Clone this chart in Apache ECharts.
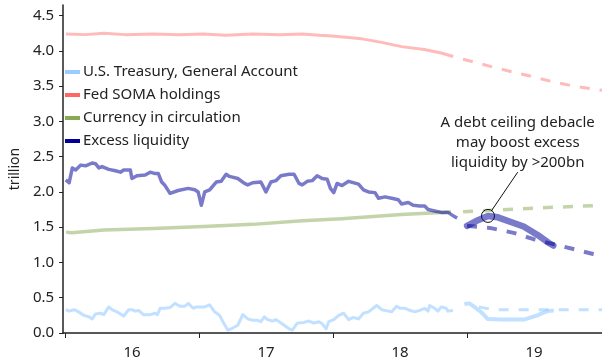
<!DOCTYPE html>
<html>
<head>
<meta charset="utf-8">
<script src="https://cdn.jsdelivr.net/npm/echarts@6/dist/echarts.min.js"></script>
<style>
  html, body { margin: 0; padding: 0; background: #fff; }
  #chart { width: 602px; height: 363px; }
</style>
</head>
<body>
<div id="chart"></div>
<script>
// Liquidity components, trillions of dollars, x in decimal years.
const seriesNames = ['U.S. Treasury, General Account', 'Fed SOMA holdings', 'Currency in circulation', 'Excess liquidity'];
const legendColors = ['#99ccff', '#ff6666', '#88aa55', '#000099'];

// U.S. Treasury General Account
const tgaActual = [
  [2016.005,0.33],[2016.030,0.31],[2016.067,0.33],[2016.091,0.31],[2016.141,0.25],[2016.178,0.23],[2016.202,0.20],
  [2016.227,0.27],[2016.264,0.28],[2016.289,0.26],[2016.326,0.37],[2016.350,0.33],[2016.387,0.30],[2016.437,0.24],
  [2016.474,0.33],[2016.499,0.33],[2016.524,0.31],[2016.548,0.32],[2016.585,0.26],[2016.635,0.26],[2016.672,0.28],
  [2016.689,0.26],[2016.709,0.35],[2016.746,0.35],[2016.783,0.36],[2016.820,0.42],[2016.857,0.38],[2016.894,0.38],
  [2016.919,0.42],[2016.956,0.35],[2016.980,0.37],[2017.042,0.37],[2017.079,0.40],[2017.116,0.30],[2017.153,0.25],
  [2017.178,0.16],[2017.215,0.04],[2017.252,0.07],[2017.289,0.11],[2017.326,0.26],[2017.363,0.20],[2017.400,0.18],
  [2017.437,0.18],[2017.461,0.16],[2017.487,0.23],[2017.511,0.19],[2017.548,0.17],[2017.573,0.19],[2017.598,0.16],
  [2017.635,0.11],[2017.672,0.06],[2017.696,0.04],[2017.733,0.14],[2017.783,0.15],[2017.820,0.17],[2017.857,0.14],
  [2017.894,0.16],[2017.919,0.13],[2017.948,0.06],[2017.968,0.16],[2018.005,0.19],[2018.042,0.25],[2018.079,0.28],
  [2018.116,0.19],[2018.153,0.22],[2018.190,0.20],[2018.227,0.28],[2018.264,0.30],[2018.326,0.39],[2018.363,0.33],
  [2018.413,0.31],[2018.437,0.30],[2018.474,0.38],[2018.499,0.35],[2018.536,0.35],[2018.561,0.33],[2018.610,0.30],
  [2018.647,0.32],[2018.684,0.35],[2018.709,0.31],[2018.721,0.39],[2018.758,0.35],[2018.783,0.31],[2018.807,0.37],
  [2018.844,0.35],[2018.857,0.31],[2018.894,0.32]
];
const tgaDebtCeiling = [
  [2018.980,0.41],[2019.017,0.42],[2019.054,0.37],[2019.104,0.30],[2019.153,0.20],[2019.252,0.19],
  [2019.424,0.19],[2019.524,0.25],[2019.598,0.31],[2019.647,0.32]
];
const tgaBaseline = [[2019.089,0.37],[2019.193,0.33],[2020.007,0.33]];

// Fed SOMA holdings
const somaActual = [
  [2016.007,4.24],[2016.150,4.23],[2016.289,4.25],[2016.450,4.23],[2016.659,4.24],[2016.850,4.23],[2017.030,4.24],
  [2017.200,4.22],[2017.400,4.24],[2017.600,4.23],[2017.770,4.24],[2017.900,4.22],[2017.993,4.21],[2018.215,4.17],
  [2018.363,4.12],[2018.511,4.06],[2018.681,4.02],[2018.807,3.97],[2018.896,3.92]
];
const somaOutlook = [
  [2018.970,3.88],[2019.015,3.86],[2019.193,3.77],[2019.341,3.70],[2019.496,3.63],[2019.644,3.56],
  [2019.793,3.50],[2019.941,3.46],[2020.007,3.44]
];

// Currency in circulation
const currencyActual = [
  [2016.007,1.43],[2016.050,1.42],[2016.289,1.46],[2016.659,1.48],[2017.030,1.51],[2017.400,1.54],
  [2017.770,1.59],[2018.067,1.62],[2018.140,1.63],[2018.511,1.68],[2018.807,1.71],[2018.880,1.72]
];
const currencyOutlook = [[2018.970,1.72],[2019.500,1.77],[2020.007,1.81]];

// Excess liquidity
const excessActual = [
  [2016.005,2.17],[2016.030,2.13],[2016.054,2.34],[2016.079,2.31],[2016.116,2.38],[2016.153,2.37],[2016.202,2.41],
  [2016.227,2.40],[2016.252,2.34],[2016.276,2.36],[2016.326,2.32],[2016.376,2.30],[2016.413,2.28],[2016.437,2.31],
  [2016.487,2.31],[2016.499,2.19],[2016.536,2.23],[2016.598,2.24],[2016.635,2.28],[2016.672,2.26],[2016.696,2.26],
  [2016.721,2.14],[2016.746,2.09],[2016.783,1.98],[2016.844,2.02],[2016.919,2.05],[2016.968,2.03],[2016.993,2.00],
  [2017.017,1.81],[2017.042,2.00],[2017.079,2.03],[2017.128,2.14],[2017.165,2.15],[2017.202,2.25],[2017.227,2.22],
  [2017.289,2.19],[2017.339,2.12],[2017.363,2.10],[2017.400,2.13],[2017.461,2.14],[2017.499,2.00],[2017.536,2.14],
  [2017.573,2.16],[2017.610,2.23],[2017.672,2.25],[2017.709,2.25],[2017.746,2.12],[2017.770,2.10],[2017.807,2.15],
  [2017.844,2.16],[2017.881,2.23],[2017.919,2.19],[2017.956,2.18],[2017.980,2.05],[2018.005,1.99],[2018.030,2.12],
  [2018.067,2.09],[2018.116,2.15],[2018.190,2.11],[2018.227,2.03],[2018.264,2.00],[2018.313,1.99],[2018.339,1.91],
  [2018.388,1.93],[2018.437,1.91],[2018.487,1.89],[2018.511,1.83],[2018.561,1.85],[2018.598,1.81],[2018.647,1.80],
  [2018.684,1.80],[2018.709,1.75],[2018.758,1.73],[2018.807,1.71],[2018.857,1.71],[2018.906,1.65],[2018.926,1.63]
];
const excessDebtCeiling = [
  [2019.000,1.52],[2019.081,1.60],[2019.156,1.66],[2019.230,1.64],[2019.348,1.56],[2019.422,1.51],
  [2019.526,1.39],[2019.607,1.28],[2019.644,1.24]
];
const excessBaseline = [
  [2019.000,1.52],[2019.170,1.49],[2019.348,1.42],[2019.496,1.33],[2019.644,1.26],[2019.793,1.19],
  [2019.941,1.12],[2020.007,1.10]
];

// Axis ticks and labels
const yTicks = [0, 0.5, 1, 1.5, 2, 2.5, 3, 3.5, 4, 4.5];
const yearTicks = [2016, 2017, 2018, 2019];
const yearLabelPositions = [2016.5, 2017.5, 2018.5, 2019.5];
const yearLabels = ['16', '17', '18', '19'];

// Annotation
const noteText = ['A debt ceiling debacle', 'may boost excess', 'liquidity by >200bn'];
const notePoint = [2019.156, 1.66];
const leaderStart = [2019.181, 1.73];
const leaderEnd = [2019.378, 2.28];
const notePosition = [2019.378, 2.70];

const FONT = 'Noto Sans';
const lineColors = {
  tga: 'rgba(153,204,255,0.6)',
  soma: 'rgba(255,102,102,0.45)',
  currency: 'rgba(136,170,85,0.5)',
  excess: 'rgba(0,0,153,0.52)'
};

function lineSeries(name, data, color, width, dashed, z) {
  return {
    name: name,
    type: 'line',
    data: data,
    showSymbol: false,
    symbol: 'none',
    silent: true,
    z: z,
    lineStyle: { color: color, width: width, type: dashed ? [10, 10] : 'solid', cap: 'butt', join: 'round' },
    itemStyle: { color: color }
  };
}

const chart = echarts.init(document.getElementById('chart'), null, { renderer: 'canvas' });

const excessProjection = lineSeries(seriesNames[3], excessDebtCeiling, lineColors.excess, 6.5, false, 8);
excessProjection.lineStyle.cap = 'round';
excessProjection.markPoint = {
  silent: true,
  animation: false,
  data: [
    {
      coord: notePoint,
      symbol: 'circle',
      symbolSize: 13,
      itemStyle: { color: 'rgba(0,0,0,0)', borderColor: '#111', borderWidth: 1 },
      label: { show: false }
    },
    {
      coord: notePosition,
      symbol: 'circle',
      symbolSize: 0,
      label: {
        show: true,
        position: 'inside',
        formatter: noteText.join('\n'),
        fontFamily: FONT,
        fontSize: 15,
        lineHeight: 20,
        color: '#222',
        align: 'center',
        verticalAlign: 'middle'
      }
    }
  ]
};
excessProjection.markLine = {
  silent: true,
  animation: false,
  symbol: 'none',
  label: { show: false },
  lineStyle: { color: '#111', width: 1, type: 'solid' },
  data: [[{ coord: leaderStart }, { coord: leaderEnd }]]
};

chart.setOption({
  animation: false,
  backgroundColor: '#fff',
  textStyle: { fontFamily: FONT },
  grid: { left: 59, right: 0, top: 5, bottom: 30, containLabel: false },
  legend: {
    orient: 'vertical',
    left: 65,
    top: 64,
    padding: 0,
    itemWidth: 15,
    itemHeight: 4,
    itemGap: 7,
    icon: 'rect',
    selectedMode: false,
    textStyle: { fontFamily: FONT, fontSize: 15, lineHeight: 16, color: '#222', padding: [0, 0, 0, -2] },
    data: seriesNames.map((n, i) => ({ name: n, itemStyle: { color: legendColors[i] } }))
  },
  xAxis: {
    type: 'value',
    min: 2015.985,
    max: 2020.007,
    splitLine: { show: false },
    axisLine: { show: true, lineStyle: { color: '#222', width: 1.5 } },
    axisTick: { show: true, length: 5, customValues: yearTicks, lineStyle: { color: '#222', width: 1 } },
    axisLabel: {
      customValues: yearLabelPositions,
      formatter: v => yearLabels[yearLabelPositions.indexOf(v)],
      fontFamily: FONT, fontSize: 15, color: '#222', margin: 12
    }
  },
  yAxis: {
    type: 'value',
    min: 0,
    max: 4.65,
    name: 'trillion',
    nameLocation: 'middle',
    nameGap: 40,
    nameTextStyle: { fontFamily: FONT, fontSize: 14, color: '#222' },
    splitLine: { show: false },
    axisLine: { show: true, lineStyle: { color: '#222', width: 1.5 } },
    axisTick: { show: true, length: 4, customValues: yTicks, lineStyle: { color: '#222' } },
    axisLabel: {
      customValues: yTicks,
      formatter: v => v.toFixed(1),
      fontFamily: FONT, fontSize: 15, color: '#222', margin: 9
    }
  },
  series: [
    lineSeries(seriesNames[0], tgaActual, lineColors.tga, 3, false, 2),
    lineSeries(seriesNames[0], tgaDebtCeiling, lineColors.tga, 4, false, 2),
    lineSeries(seriesNames[0], tgaBaseline, lineColors.tga, 3, true, 2),
    lineSeries(seriesNames[1], somaActual, lineColors.soma, 3, false, 3),
    lineSeries(seriesNames[1], somaOutlook, lineColors.soma, 3, true, 3),
    lineSeries(seriesNames[2], currencyActual, lineColors.currency, 3.5, false, 4),
    lineSeries(seriesNames[2], currencyOutlook, lineColors.currency, 3.5, true, 4),
    lineSeries(seriesNames[3], excessActual, lineColors.excess, 3.5, false, 6),
    lineSeries(seriesNames[3], excessBaseline, lineColors.excess, 4, true, 6),
    excessProjection
  ]
});
</script>
</body>
</html>
